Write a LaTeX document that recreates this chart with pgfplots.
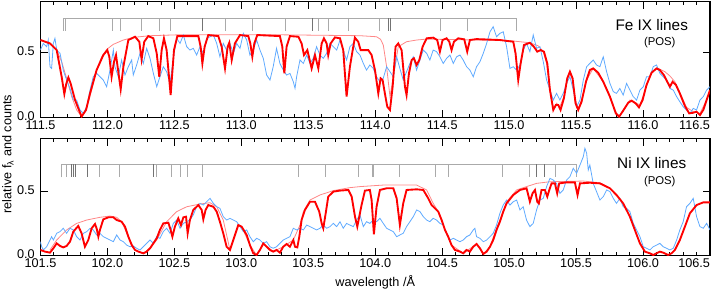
\documentclass[border=0pt]{standalone}
\usepackage{pgfplots}
\pgfplotsset{compat=1.18}
\usepackage{fontspec}
\setmainfont{Liberation Sans}
\definecolor{obsblue}{RGB}{95,170,255}
\definecolor{modred}{RGB}{255,0,0}
\definecolor{contred}{RGB}{255,135,135}
\definecolor{lgray}{RGB}{170,170,170}
\definecolor{dgray}{RGB}{115,115,115}
\pgfplotsset{
  spec/.style={
    scale only axis, width=502.1pt, ymin=0,
    axis line style={line width=0.8pt},
    every tick/.style={black, line width=0.6pt},
    major tick length=5.5pt, minor tick length=2.7pt,
    xtick distance=0.5, minor x tick num=4,
    ytick={0,0.5}, tick align=inside, scaled ticks=false,
    /pgf/number format/assume math mode=true,
    xticklabel style={/pgf/number format/fixed, /pgf/number format/fixed zerofill, /pgf/number format/precision=1, yshift=1pt},
    yticklabel style={/pgf/number format/fixed, /pgf/number format/fixed zerofill, /pgf/number format/precision=1, xshift=-0.8pt, yshift=1pt},
    xticklabel={\pgfmathparse{(\tick>(\pgfkeysvalueof{/pgfplots/xmax}-0.05)) ? 1 : 0}%
      \ifdim\pgfmathresult pt>0.5pt \makebox[0pt][r]{\pgfmathprintnumber{\tick}}\else\pgfmathprintnumber{\tick}\fi},
    tick label style={font=\fontsize{9.5}{11}\selectfont},
    unbounded coords=jump,
  }
}
\begin{document}
\begin{tikzpicture}
% ---------------- top panel: Fe IX
\begin{axis}[spec, at={(0,103.35pt)}, anchor=south west, height=87pt,
  xmin=111.5, xmax=116.5, ymax=0.887]
\addplot[lgray, line width=0.6pt] coordinates {
(111.670,0.665)(111.670,0.760)(115.051,0.760)(115.051,0.665)(115.051,nan)
(111.683,0.760)(111.683,0.665)(111.683,nan)
(112.036,0.760)(112.036,0.665)(112.036,nan)
(112.096,0.760)(112.096,0.665)(112.096,nan)
(112.251,0.760)(112.251,0.665)(112.251,nan)
(112.385,0.760)(112.385,0.665)(112.385,nan)
(112.468,0.760)(112.468,0.665)(112.468,nan)
(112.878,0.760)(112.878,0.665)(112.878,nan)
(113.082,0.760)(113.082,0.665)(113.082,nan)
(113.326,0.760)(113.326,0.665)(113.326,nan)
(113.575,0.760)(113.575,0.665)(113.575,nan)
(113.649,0.760)(113.649,0.665)(113.649,nan)
(113.799,0.760)(113.799,0.665)(113.799,nan)
(114.028,0.760)(114.028,0.665)(114.028,nan)
(114.483,0.760)(114.483,0.665)(114.483,nan)
(114.690,0.760)(114.690,0.665)(114.690,nan)
};
\addplot[dgray, line width=0.6pt] coordinates {
(112.708,0.760)(112.708,0.665)(112.708,nan)
(113.533,0.760)(113.533,0.665)(113.533,nan)
(114.097,0.760)(114.097,0.665)(114.097,nan)
(114.110,0.760)(114.110,0.665)(114.110,nan)
};
\addplot[contred, line width=0.6pt] coordinates {
(111.500,0.594)(111.571,0.563)(111.621,0.517)(111.658,0.428)(111.695,0.301)(111.733,0.161)
(111.770,0.059)(111.807,0.008)(111.845,0.071)(111.882,0.211)(111.919,0.364)(111.957,0.466)
(111.994,0.522)(112.044,0.561)(112.119,0.594)(112.193,0.614)(112.318,0.627)(112.567,0.635)
(113.189,0.635)(113.886,0.627)(114.010,0.619)(114.040,0.599)(114.060,0.556)(114.085,0.390)
(114.110,0.161)(114.135,0.313)(114.172,0.543)(114.234,0.581)(114.309,0.594)(114.384,0.601)
(115.006,0.589)(115.155,0.573)(115.217,0.550)(115.255,0.505)(115.280,0.415)(115.305,0.211)
(115.330,0.064)(115.354,0.110)(115.379,0.084)(115.409,0.161)(115.441,0.313)(115.466,0.326)
(115.496,0.135)(115.516,0.071)(115.541,0.135)(115.579,0.288)(115.628,0.377)(115.703,0.275)
(115.802,0.033)(115.822,0.013)(115.902,0.135)(115.977,0.097)(116.064,0.352)(116.114,0.377)
(116.163,0.352)(116.201,0.319)(116.238,0.275)(116.275,0.191)(116.325,0.079)(116.375,0.046)
(116.425,0.033)(116.475,0.135)(116.500,0.211)
};
\addplot[obsblue, line width=0.6pt] coordinates {
(111.499,0.517)(111.521,0.568)(111.546,0.543)(111.558,0.594)(111.571,0.390)(111.583,0.377)
(111.596,0.568)(111.608,0.607)(111.621,0.517)(111.646,0.492)(111.670,0.364)(111.695,0.288)
(111.720,0.224)(111.745,0.135)(111.770,0.135)(111.795,0.059)(111.820,0.033)(111.845,0.084)
(111.870,0.211)(111.894,0.313)(111.919,0.339)(111.944,0.313)(111.969,0.288)(111.994,0.237)
(112.019,0.364)(112.044,0.517)(112.056,0.390)(112.081,0.313)(112.106,0.441)(112.131,0.326)
(112.156,0.390)(112.181,0.441)(112.193,0.326)(112.218,0.403)(112.243,0.492)(112.268,0.415)
(112.293,0.530)(112.318,0.454)(112.343,0.339)(112.368,0.237)(112.392,0.313)(112.417,0.390)
(112.442,0.352)(112.467,0.262)(112.492,0.454)(112.517,0.607)(112.542,0.568)(112.567,0.632)
(112.592,0.543)(112.616,0.517)(112.641,0.530)(112.666,0.479)(112.691,0.543)(112.716,0.492)
(112.741,0.607)(112.766,0.619)(112.791,0.632)(112.816,0.568)(112.840,0.466)(112.865,0.568)
(112.890,0.517)(112.915,0.568)(112.940,0.492)(112.965,0.568)(112.990,0.530)(113.015,0.645)
(113.040,0.594)(113.064,0.479)(113.089,0.517)(113.114,0.594)(113.139,0.517)(113.164,0.454)
(113.189,0.326)(113.214,0.288)(113.238,0.390)(113.263,0.530)(113.288,0.415)(113.313,0.364)
(113.338,0.326)(113.363,0.339)(113.388,0.275)(113.401,0.224)(113.413,0.313)(113.438,0.441)
(113.463,0.415)(113.488,0.479)(113.513,0.415)(113.537,0.454)(113.562,0.543)(113.587,0.479)
(113.612,0.454)(113.637,0.492)(113.662,0.568)(113.687,0.543)(113.712,0.517)(113.737,0.594)
(113.761,0.517)(113.786,0.441)(113.811,0.543)(113.836,0.568)(113.861,0.505)(113.886,0.479)
(113.911,0.415)(113.935,0.364)(113.960,0.403)(113.985,0.377)(114.010,0.313)(114.035,0.275)
(114.060,0.301)(114.085,0.390)(114.110,0.352)(114.135,0.313)(114.160,0.466)(114.184,0.377)
(114.209,0.288)(114.234,0.352)(114.259,0.415)(114.284,0.466)(114.309,0.364)(114.334,0.441)
(114.359,0.517)(114.384,0.492)(114.408,0.441)(114.433,0.517)(114.458,0.505)(114.483,0.466)
(114.508,0.415)(114.533,0.454)(114.558,0.479)(114.583,0.415)(114.608,0.466)(114.633,0.479)
(114.657,0.441)(114.682,0.390)(114.707,0.364)(114.732,0.313)(114.757,0.390)(114.782,0.428)
(114.807,0.492)(114.832,0.568)(114.857,0.657)(114.881,0.696)(114.906,0.619)(114.931,0.645)
(114.956,0.657)(114.981,0.543)(115.006,0.377)(115.031,0.390)(115.056,0.364)(115.081,0.403)
(115.105,0.517)(115.130,0.568)(115.155,0.505)(115.180,0.632)(115.205,0.530)(115.230,0.543)
(115.255,0.428)(115.280,0.288)(115.305,0.211)(115.330,0.135)(115.354,0.186)(115.379,0.135)
(115.404,0.186)(115.429,0.262)(115.454,0.313)(115.479,0.211)(115.504,0.084)(115.529,0.135)
(115.554,0.288)(115.579,0.390)(115.603,0.415)(115.628,0.441)(115.653,0.403)(115.678,0.390)
(115.703,0.466)(115.728,0.352)(115.753,0.262)(115.778,0.199)(115.802,0.186)(115.827,0.224)
(115.852,0.173)(115.877,0.262)(115.902,0.211)(115.927,0.161)(115.952,0.135)(115.977,0.211)
(116.002,0.237)(116.026,0.313)(116.051,0.313)(116.076,0.390)(116.101,0.403)(116.126,0.339)
(116.151,0.313)(116.176,0.288)(116.201,0.224)(116.226,0.211)(116.251,0.161)(116.275,0.122)
(116.300,0.084)(116.325,0.059)(116.350,0.033)(116.375,0.071)(116.400,0.059)(116.425,0.135)
(116.450,0.161)(116.475,0.211)(116.500,0.237)
};
\addplot[modred, line width=1.4pt] coordinates {
(111.500,0.594)(111.571,0.568)(111.621,0.517)(111.658,0.313)(111.678,0.181)(111.693,0.262)
(111.708,0.308)(111.725,0.262)(111.758,0.135)(111.807,0.008)(111.840,0.059)(111.870,0.186)
(111.919,0.364)(111.969,0.479)(111.999,0.517)(112.014,0.466)(112.031,0.313)(112.049,0.428)
(112.064,0.479)(112.081,0.352)(112.099,0.217)(112.119,0.390)(112.156,0.594)(112.206,0.619)
(112.238,0.581)(112.255,0.446)(112.275,0.581)(112.305,0.624)(112.343,0.607)(112.368,0.492)
(112.387,0.313)(112.405,0.517)(112.422,0.607)(112.442,0.517)(112.472,0.173)(112.497,0.517)
(112.522,0.624)(112.679,0.624)(112.696,0.543)(112.709,0.415)(112.726,0.543)(112.753,0.632)
(112.828,0.624)(112.853,0.543)(112.878,0.377)(112.898,0.543)(112.910,0.573)(112.928,0.441)
(112.952,0.568)(112.990,0.632)(113.052,0.624)(113.067,0.568)(113.082,0.466)(113.097,0.568)
(113.119,0.632)(113.288,0.624)(113.306,0.543)(113.321,0.339)(113.338,0.543)(113.363,0.624)
(113.426,0.619)(113.450,0.568)(113.468,0.479)(113.493,0.517)(113.525,0.377)(113.550,0.479)
(113.575,0.377)(113.600,0.568)(113.617,0.607)(113.637,0.568)(113.649,0.479)(113.667,0.568)
(113.699,0.614)(113.737,0.607)(113.761,0.517)(113.786,0.161)(113.811,0.390)(113.836,0.543)
(113.848,0.612)(113.873,0.581)(113.891,0.517)(113.923,0.517)(113.948,0.517)(113.973,0.479)
(113.998,0.364)(114.023,0.186)(114.040,0.301)(114.055,0.288)(114.072,0.186)(114.090,0.084)
(114.110,0.059)(114.130,0.237)(114.152,0.543)(114.172,0.568)(114.197,0.517)(114.222,0.237)
(114.234,0.173)(114.252,0.339)(114.272,0.441)(114.289,0.454)(114.309,0.403)(114.329,0.441)
(114.354,0.543)(114.384,0.607)(114.433,0.612)(114.463,0.594)(114.483,0.505)(114.503,0.594)
(114.533,0.607)(114.553,0.581)(114.570,0.517)(114.588,0.581)(114.620,0.607)(114.665,0.599)
(114.687,0.505)(114.707,0.594)(114.757,0.601)(114.931,0.594)(115.031,0.581)(115.048,0.492)
(115.068,0.288)(115.086,0.415)(115.111,0.556)(115.155,0.573)(115.185,0.543)(115.210,0.505)
(115.235,0.517)(115.260,0.505)(115.285,0.415)(115.305,0.211)(115.330,0.059)(115.349,0.097)
(115.367,0.097)(115.384,0.059)(115.409,0.148)(115.434,0.301)(115.454,0.352)(115.474,0.301)
(115.496,0.110)(115.516,0.059)(115.541,0.122)(115.574,0.275)(115.603,0.364)(115.628,0.377)
(115.665,0.344)(115.703,0.275)(115.753,0.161)(115.797,0.033)(115.822,0.008)(115.852,0.054)
(115.890,0.115)(115.915,0.130)(115.945,0.110)(115.970,0.079)(115.997,0.135)(116.026,0.250)
(116.064,0.344)(116.101,0.377)(116.126,0.364)(116.156,0.326)(116.181,0.275)(116.201,0.237)
(116.221,0.275)(116.246,0.250)(116.275,0.186)(116.313,0.089)(116.345,0.033)(116.375,0.038)
(116.400,0.046)(116.425,0.020)(116.450,0.059)(116.475,0.135)(116.500,0.211)
};
\node[font=\fontsize{11.5}{13}\selectfont] at (rel axis cs:0.913,0.80) {Fe IX lines};
\node[font=\fontsize{8.5}{10}\selectfont] at (rel axis cs:0.925,0.644) {(POS)};
\end{axis}
% ---------------- bottom panel: Ni IX
\begin{axis}[spec, at={(0,0)}, anchor=south west, height=87.9pt,
  xmin=101.5, xmax=106.5, ymax=0.9085,
  xlabel={wavelength /Å}, xlabel style={font=\fontsize{9.5}{11}\selectfont, yshift=1pt}]
\addplot[lgray, line width=0.6pt] coordinates {
(101.658,0.605)(101.658,0.707)(105.504,0.707)(105.504,0.605)(105.504,nan)
(101.695,0.707)(101.695,0.605)(101.695,nan)
(101.937,0.707)(101.937,0.605)(101.937,nan)
(102.086,0.707)(102.086,0.605)(102.086,nan)
(102.368,0.707)(102.368,0.605)(102.368,nan)
(102.480,0.707)(102.480,0.605)(102.480,nan)
(102.542,0.707)(102.542,0.605)(102.542,nan)
(102.596,0.707)(102.596,0.605)(102.596,nan)
(102.711,0.707)(102.711,0.605)(102.711,nan)
(103.425,0.707)(103.425,0.605)(103.425,nan)
(103.625,0.707)(103.625,0.605)(103.625,nan)
(103.878,0.707)(103.878,0.605)(103.878,nan)
(103.980,0.707)(103.980,0.605)(103.980,nan)
(103.990,0.707)(103.990,0.605)(103.990,nan)
(104.184,0.707)(104.184,0.605)(104.184,nan)
(104.453,0.707)(104.453,0.605)(104.453,nan)
(104.550,0.707)(104.550,0.605)(104.550,nan)
(104.951,0.707)(104.951,0.605)(104.951,nan)
(105.148,0.707)(105.148,0.605)(105.148,nan)
(105.262,0.707)(105.262,0.605)(105.262,nan)
(105.342,0.707)(105.342,0.605)(105.342,nan)
};
\addplot[dgray, line width=0.6pt] coordinates {
(101.733,0.707)(101.733,0.605)(101.733,nan)
(101.745,0.707)(101.745,0.605)(101.745,nan)
(101.758,0.707)(101.758,0.605)(101.758,nan)
(101.850,0.707)(101.850,0.605)(101.850,nan)
(102.343,0.707)(102.343,0.605)(102.343,nan)
(105.205,0.707)(105.205,0.605)(105.205,nan)
(105.267,0.707)(105.267,0.605)(105.267,nan)
};
\addplot[contred, line width=0.6pt] coordinates {
(101.571,0.043)(101.621,0.120)(101.695,0.198)(101.770,0.249)(101.845,0.275)(101.944,0.296)
(102.019,0.306)(102.069,0.296)(102.106,0.262)(102.156,0.146)(102.206,0.043)(102.268,0.017)
(102.318,0.056)(102.368,0.120)(102.442,0.262)(102.517,0.340)(102.592,0.378)(102.691,0.399)
(102.766,0.409)(102.816,0.378)(102.865,0.275)(102.915,0.043)(102.940,0.120)(102.977,0.236)
(103.002,0.224)(103.064,0.081)(103.114,0.004)(103.164,0.094)(103.238,0.030)(103.313,0.068)
(103.388,0.120)(103.438,0.236)(103.463,0.340)(103.513,0.430)(103.587,0.469)(103.687,0.503)
(103.811,0.526)(103.886,0.534)(104.060,0.546)(104.309,0.546)(104.384,0.508)(104.433,0.404)
(104.471,0.340)(104.521,0.198)(104.570,0.081)(104.657,0.017)(104.757,0.089)(104.807,0.012)
(104.857,0.068)(104.906,0.211)(104.943,0.301)(104.981,0.417)(105.056,0.508)(105.130,0.534)
(105.205,0.559)(105.305,0.572)(105.554,0.577)(105.678,0.564)(105.753,0.521)
};
\addplot[obsblue, line width=0.6pt] coordinates {
(101.499,0.107)(101.509,0.068)(101.521,0.043)(101.546,0.068)(101.571,0.120)(101.583,0.146)
(101.596,0.120)(101.621,0.172)(101.646,0.185)(101.670,0.211)(101.695,0.172)(101.720,0.211)
(101.745,0.198)(101.770,0.146)(101.795,0.120)(101.820,0.172)(101.845,0.185)(101.870,0.211)
(101.894,0.198)(101.919,0.159)(101.944,0.172)(101.969,0.146)(101.994,0.133)(102.019,0.120)
(102.044,0.107)(102.069,0.159)(102.094,0.120)(102.119,0.107)(102.143,0.081)(102.168,0.068)
(102.193,0.074)(102.218,0.056)(102.243,0.043)(102.268,0.068)(102.293,0.094)(102.318,0.120)
(102.343,0.094)(102.368,0.146)(102.392,0.133)(102.417,0.185)(102.442,0.211)(102.467,0.172)
(102.492,0.249)(102.517,0.275)(102.542,0.211)(102.567,0.249)(102.592,0.262)(102.616,0.275)
(102.641,0.314)(102.666,0.378)(102.691,0.404)(102.716,0.391)(102.741,0.417)(102.766,0.443)
(102.791,0.404)(102.816,0.378)(102.840,0.366)(102.865,0.301)(102.890,0.275)(102.915,0.288)
(102.940,0.275)(102.965,0.262)(102.990,0.224)(103.015,0.185)(103.040,0.198)(103.064,0.146)
(103.089,0.107)(103.114,0.133)(103.139,0.120)(103.164,0.094)(103.189,0.107)(103.214,0.068)
(103.238,0.056)(103.263,0.068)(103.288,0.094)(103.313,0.120)(103.338,0.133)(103.363,0.146)
(103.388,0.211)(103.413,0.198)(103.438,0.211)(103.463,0.198)(103.488,0.236)(103.513,0.224)
(103.537,0.211)(103.562,0.198)(103.587,0.211)(103.612,0.236)(103.637,0.211)(103.662,0.224)
(103.687,0.249)(103.712,0.224)(103.737,0.262)(103.761,0.211)(103.786,0.249)(103.811,0.236)
(103.836,0.224)(103.861,0.275)(103.886,0.314)(103.911,0.224)(103.935,0.262)(103.960,0.249)
(103.985,0.275)(104.010,0.262)(104.035,0.288)(104.060,0.249)(104.085,0.211)(104.110,0.198)
(104.135,0.185)(104.160,0.146)(104.184,0.159)(104.209,0.172)(104.234,0.224)(104.259,0.262)
(104.284,0.301)(104.309,0.353)(104.334,0.340)(104.359,0.301)(104.384,0.275)(104.408,0.262)
(104.433,0.288)(104.458,0.275)(104.483,0.249)(104.508,0.236)(104.533,0.172)(104.558,0.120)
(104.583,0.133)(104.608,0.120)(104.633,0.107)(104.657,0.120)(104.682,0.146)(104.707,0.159)
(104.732,0.198)(104.744,0.211)(104.757,0.146)(104.782,0.133)(104.807,0.107)(104.832,0.120)
(104.857,0.146)(104.881,0.172)(104.906,0.236)(104.931,0.327)(104.956,0.391)(104.981,0.430)
(105.006,0.391)(105.031,0.417)(105.056,0.430)(105.081,0.353)(105.105,0.378)(105.130,0.275)
(105.155,0.224)(105.180,0.249)(105.205,0.353)(105.230,0.430)(105.255,0.443)(105.280,0.534)
(105.305,0.598)(105.330,0.585)(105.354,0.559)(105.379,0.482)(105.404,0.508)(105.429,0.585)
(105.454,0.611)(105.479,0.676)(105.504,0.637)(105.529,0.701)(105.554,0.766)(105.566,0.831)
(105.579,0.792)(105.591,0.663)(105.603,0.701)(105.628,0.559)(105.653,0.495)(105.678,0.430)
(105.703,0.456)(105.728,0.508)(105.753,0.495)(105.778,0.443)(105.802,0.404)(105.827,0.443)
(105.852,0.378)(105.877,0.366)(105.902,0.340)(105.927,0.249)(105.952,0.198)(105.977,0.146)
(106.002,0.068)(106.026,0.056)(106.051,0.043)(106.076,0.068)(106.101,0.081)(106.126,0.094)
(106.151,0.068)(106.176,0.056)(106.201,0.043)(106.226,0.056)(106.251,0.120)(106.275,0.198)
(106.300,0.262)(106.325,0.378)(106.350,0.404)(106.375,0.443)(106.400,0.301)(106.425,0.224)
(106.450,0.211)(106.475,0.249)(106.500,0.198)
};
\addplot[modred, line width=1.4pt] coordinates {
(101.499,0.043)(101.534,0.030)(101.571,0.022)(101.596,0.056)(101.621,0.094)(101.646,0.074)
(101.670,0.063)(101.695,0.074)(101.720,0.107)(101.745,0.185)(101.782,0.229)(101.807,0.172)
(101.832,0.068)(101.857,0.120)(101.882,0.211)(101.907,0.244)(101.919,0.211)(101.932,0.146)
(101.944,0.198)(101.969,0.280)(102.007,0.296)(102.044,0.296)(102.069,0.275)(102.106,0.262)
(102.131,0.224)(102.156,0.146)(102.181,0.081)(102.206,0.043)(102.231,0.030)(102.268,0.017)
(102.293,0.030)(102.318,0.056)(102.343,0.094)(102.368,0.133)(102.392,0.198)(102.417,0.249)
(102.455,0.254)(102.472,0.198)(102.485,0.146)(102.504,0.224)(102.529,0.288)(102.549,0.236)
(102.567,0.296)(102.587,0.301)(102.599,0.172)(102.616,0.275)(102.641,0.353)(102.679,0.391)
(102.704,0.353)(102.716,0.280)(102.733,0.353)(102.753,0.391)(102.791,0.378)(102.816,0.340)
(102.840,0.262)(102.865,0.172)(102.890,0.068)(102.915,0.043)(102.940,0.120)(102.977,0.236)
(103.002,0.224)(103.040,0.159)(103.064,0.081)(103.089,0.017)(103.114,0.004)(103.139,0.043)
(103.164,0.094)(103.189,0.068)(103.214,0.043)(103.238,0.030)(103.263,0.043)(103.288,0.022)
(103.313,0.068)(103.338,0.089)(103.363,0.068)(103.388,0.120)(103.401,0.068)(103.418,0.063)
(103.433,0.146)(103.450,0.275)(103.475,0.353)(103.513,0.417)(103.550,0.417)(103.582,0.340)
(103.600,0.249)(103.612,0.211)(103.632,0.340)(103.649,0.456)(103.687,0.495)(103.737,0.503)
(103.799,0.508)(103.824,0.456)(103.849,0.301)(103.866,0.224)(103.898,0.391)(103.923,0.503)
(103.960,0.508)(103.973,0.430)(103.990,0.164)(104.010,0.378)(104.035,0.508)(104.085,0.521)
(104.135,0.521)(104.160,0.443)(104.184,0.236)(104.209,0.404)(104.234,0.508)(104.309,0.513)
(104.359,0.508)(104.396,0.443)(104.421,0.391)(104.446,0.366)(104.471,0.340)(104.496,0.275)
(104.521,0.198)(104.545,0.146)(104.570,0.081)(104.595,0.043)(104.633,0.030)(104.657,0.017)
(104.682,0.043)(104.707,0.030)(104.732,0.068)(104.757,0.089)(104.782,0.056)(104.807,0.012)
(104.832,0.030)(104.857,0.068)(104.881,0.120)(104.906,0.198)(104.931,0.262)(104.956,0.340)
(104.981,0.404)(105.031,0.469)(105.081,0.508)(105.130,0.521)(105.143,0.469)(105.155,0.417)
(105.175,0.482)(105.193,0.508)(105.210,0.417)(105.222,0.404)(105.242,0.508)(105.267,0.508)
(105.285,0.456)(105.300,0.508)(105.317,0.559)(105.342,0.559)(105.359,0.482)(105.374,0.559)
(105.429,0.567)(105.491,0.567)(105.511,0.469)(105.529,0.559)(105.603,0.564)(105.678,0.559)
(105.753,0.521)(105.802,0.469)(105.852,0.404)(105.902,0.301)(105.939,0.198)(105.977,0.094)
(106.014,0.030)(106.051,0.017)(106.076,0.004)(106.101,0.017)(106.126,0.030)(106.151,0.022)
(106.188,0.004)(106.213,0.017)(106.238,0.043)(106.275,0.120)(106.313,0.224)(106.350,0.327)
(106.400,0.391)(106.450,0.412)(106.500,0.412)
};
\node[font=\fontsize{11.5}{13}\selectfont] at (rel axis cs:0.913,0.787) {Ni IX lines};
\node[font=\fontsize{8.5}{10}\selectfont] at (rel axis cs:0.925,0.630) {(POS)};
\end{axis}
\node[rotate=90, font=\fontsize{9.5}{11}\selectfont] at (-24.4pt,76.1pt) {relative f\textsubscript{λ} and counts};
\pgfresetboundingbox
\useasboundingbox (-30.375pt,-25.125pt) rectangle (502.875pt,191.625pt);
\end{tikzpicture}
\end{document}
